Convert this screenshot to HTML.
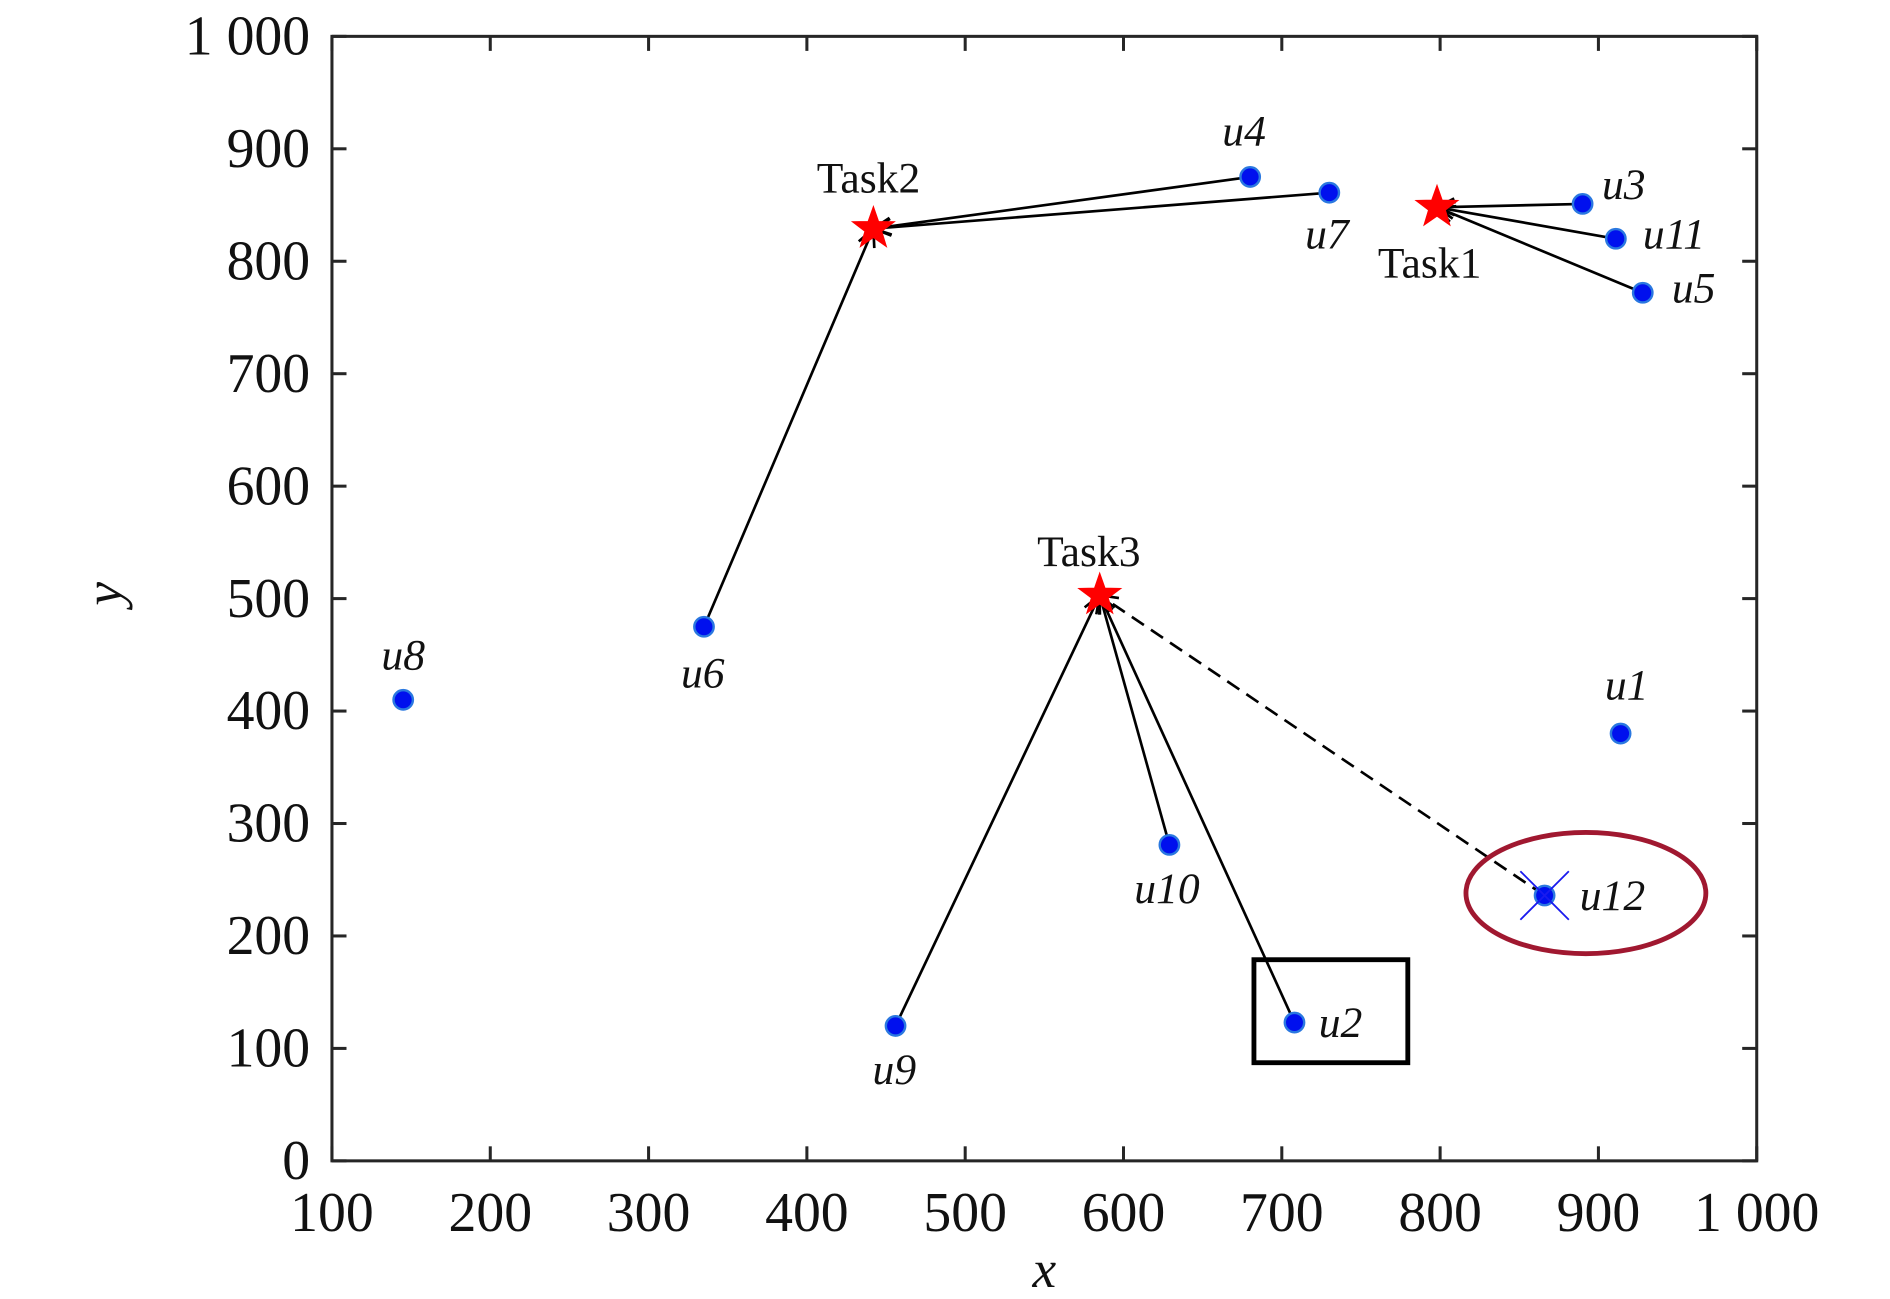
<!DOCTYPE html>
<html><head><meta charset="utf-8"><style>
html,body{margin:0;padding:0;background:#fff}
svg{display:block}
text{font-family:"Liberation Serif",serif;fill:#111}
.it{font-style:italic}
</style></head><body>
<svg id="chart" width="1890" height="1299" viewBox="0 0 1560 1072" preserveAspectRatio="none" xmlns="http://www.w3.org/2000/svg">
<g id="g"></g>
</svg>
<script>
const xTicks=[100,200,300,400,500,600,700,800,900,1000];
const xTickLabels=["100","200","300","400","500","600","700","800","900","1 000"];
const yTicks=[0,100,200,300,400,500,600,700,800,900,1000];
const yTickLabels=["0","100","200","300","400","500","600","700","800","900","1 000"];
const userNames=["u1","u2","u3","u4","u5","u6","u7","u8","u9","u10","u11","u12"];
const userX=[914,708,890,680,928,335,730,145,456,629,911,866];
const userY=[380,123,851,875,772,475,861,410,120,281,820,236];
const taskNames=["Task1","Task2","Task3"];
const taskX=[798,442,585];
const taskY=[848,829,503];
const assignUser=["u3","u11","u5","u4","u7","u6","u9","u10","u2","u12"];
const assignTask=["Task1","Task1","Task1","Task2","Task2","Task2","Task3","Task3","Task3","Task3"];
const assignDashed=[false,false,false,false,false,false,false,false,false,true];

const L=274,R=1450,T=30,B=958;
const sx=v=>L+(v-100)/900*(R-L);
const sy=v=>B-(v/1000)*(B-T);
const NS="http://www.w3.org/2000/svg";
const g=document.getElementById('g');
function el(tag,attrs,parent){const e=document.createElementNS(NS,tag);for(const k in attrs)e.setAttribute(k,attrs[k]);(parent||g).appendChild(e);return e;}

// axes box
let box=el('rect',{x:L,y:T,width:R-L,height:B-T,fill:'none',stroke:'#262626','stroke-width':2.5});


xTicks.forEach((v,i)=>{
  const x=sx(v);
  el('line',{x1:x,y1:B,x2:x,y2:B-12,stroke:'#262626','stroke-width':2.5});
  el('line',{x1:x,y1:T,x2:x,y2:T+12,stroke:'#262626','stroke-width':2.5});
  const t=el('text',{x:x,y:B+58,'font-size':46,'text-anchor':'middle'});
  t.textContent=xTickLabels[i];
  
  
});
yTicks.forEach((v,i)=>{
  const y=sy(v);
  el('line',{x1:L,y1:y,x2:L+12,y2:y,stroke:'#262626','stroke-width':2.5});
  el('line',{x1:R,y1:y,x2:R-12,y2:y,stroke:'#262626','stroke-width':2.5});
  const t=el('text',{x:L-18,y:y+15,'font-size':46,'text-anchor':'end'});
  t.textContent=yTickLabels[i];
  
  
});
let xt=el('text',{x:862,y:1062,'font-size':44,'text-anchor':'middle',class:'it'});xt.textContent='x';


let yt=el('text',{x:0,y:0,'font-size':44,'text-anchor':'middle',class:'it',transform:'translate(100,490) rotate(-90)'});yt.textContent='y';



// assignment arrows
assignUser.forEach((u,i)=>{
  const ui=userNames.indexOf(u),ti=taskNames.indexOf(assignTask[i]);
  const x1=sx(userX[ui]),y1=sy(userY[ui]),x2=sx(taskX[ti]),y2=sy(taskY[ti]);
  const a={x1:x1,y1:y1,x2:x2,y2:y2,stroke:'#000','stroke-width':2.2};
  if(assignDashed[i])a['stroke-dasharray']='12 7';
  const ln=el('line',a);
  
  
  const ang=Math.atan2(y2-y1,x2-x1),h=16,w=0.45;
  el('polyline',{points:`${x2-h*Math.cos(ang-w)},${y2-h*Math.sin(ang-w)} ${x2},${y2} ${x2-h*Math.cos(ang+w)},${y2-h*Math.sin(ang+w)}`,fill:'none',stroke:'#000','stroke-width':2.2});
});

// box & ellipse highlights
let hb=el('rect',{x:1035,y:792,width:127,height:85,fill:'none',stroke:'#000','stroke-width':4});


let he=el('ellipse',{cx:1309,cy:737,rx:99,ry:50,fill:'none',stroke:'#a01830','stroke-width':4});



// user points
const labelOff={u1:[5,-28],u2:[38,12],u3:[34,-4],u4:[-5,-26],u5:[42,8],u6:[-1,50],u7:[-2,46],u8:[0,-25],u9:[-1,48],u10:[-2,48],u11:[48,8],u12:[56,12]};
userNames.forEach((n,i)=>{
  const x=sx(userX[i]),y=sy(userY[i]);
  const c=el('circle',{cx:x,cy:y,r:8,fill:'#0010ee',stroke:'#2a78e0','stroke-width':2});
  
  
  if(n==='u12'){
    el('line',{x1:x-20,y1:y-20,x2:x+20,y2:y+20,stroke:'#1a1aee','stroke-width':1.5});
    el('line',{x1:x-20,y1:y+20,x2:x+20,y2:y-20,stroke:'#1a1aee','stroke-width':1.5});
  }
  const o=labelOff[n];
  const t=el('text',{x:x+o[0],y:y+o[1],'font-size':36,'text-anchor':'middle',class:'it'});
  t.textContent=n;
  
  
});

// tasks
const taskOff={Task1:[-6,58],Task2:[-4,-30],Task3:[-9,-24]};
function star(cx,cy,r){let p=[];for(let k=0;k<10;k++){const rr=k%2?r*0.4:r,a=-Math.PI/2+k*Math.PI/5;p.push((cx+rr*Math.cos(a)).toFixed(1)+','+(cy+rr*Math.sin(a)).toFixed(1));}return p.join(' ');}
taskNames.forEach((n,i)=>{
  const x=sx(taskX[i]),y=sy(taskY[i]);
  const s=el('polygon',{points:star(x,y,18),fill:'#ff0000',stroke:'#ff0000','stroke-width':1});
  
  
  const o=taskOff[n];
  const t=el('text',{x:x+o[0],y:y+o[1],'font-size':36,'text-anchor':'middle'});
  t.textContent=n;
  
  
});
</script>
</body></html>
